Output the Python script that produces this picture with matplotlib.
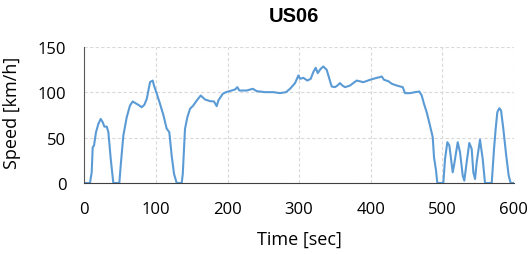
import matplotlib
matplotlib.use("Agg")
import matplotlib.pyplot as plt

time_s = [0, 7.9, 10.3, 11.7, 13.5, 16.3, 19.6, 22.9, 25.7, 28, 31.3, 33.6, 36.9, 40.5,
          48.9, 50.8, 54.5, 59.2, 63.8, 67.6, 70.8, 75.4, 80.2, 83.8, 87.2, 91.8, 95.5, 97.3,
          101, 105.7, 110.4, 115, 118.7, 122, 125.3, 129, 136, 137.5, 139, 140.6, 143.9, 147.6,
          152.2, 157, 162.6, 168.6, 175.6, 181.1, 184.9, 187.2, 193.3, 197.9, 205.9, 210.5,
          213.7, 216.5, 226.8, 235.2, 240.8, 252.4, 264, 273.3, 281.7, 287.3, 294.3, 299,
          301.3, 305.9, 311.5, 316.2, 319.8, 323.2, 326, 330.2, 333.8, 338.5, 342.2, 345.5,
          350.1, 353.4, 357.1, 360.4, 364.1, 371.1, 380.4, 389.7, 399, 408.4, 413, 415.3,
          418.6, 424.6, 429.3, 436.3, 444.7, 447.9, 454.9, 461.9, 467.9, 471.2, 474.4, 478.2,
          482.8, 486.6, 488.4, 491.2, 493, 501.4, 503.8, 507, 509.8, 514.5, 516.3, 521.5,
          524.7, 528.5, 530.7, 534, 537.7, 541, 543.3, 545.7, 548, 552.6, 556.4, 559.6, 569,
          572.2, 574.5, 576.8, 579.6, 582, 585.2, 589, 592.7, 595.5, 600]
speed_kmh = [0, 0, 11.8, 39.4, 41.2, 56, 65.2, 70.7, 67, 62.2, 62.2, 56, 26.5, 0,
             0, 19.2, 52.3, 72.5, 85.5, 89.9, 88.4, 86.2, 83.6, 86.2, 92.8, 111.3, 113, 107.5,
             99, 87.3, 75, 60, 56, 30.2, 10, 0, 0, 10, 35, 59.7, 72.5, 81.8,
             85.5, 91, 96.5, 92.1, 90.3, 89.9, 84.7, 91, 98.3, 100.2, 102, 103.1,
             105.7, 102, 102, 103.9, 101.3, 100.2, 100.2, 99.1, 100.2, 103.9, 110.2, 118.6,
             114.9, 116, 113, 114.9, 122.3, 127.1, 121.2, 126, 128.5, 124.8, 114.9, 106.4,
             105.7, 107.5, 110.2, 107.5, 105.7, 107.5, 113, 111.2, 113.8, 116, 116.8, 117.5,
             113.8, 112.3, 109.5, 107.5, 105.7, 99.1, 99.1, 100.2, 100.9, 96.5, 87.3, 78,
             63.3, 50.5, 28.4, 13.8, 0, 0, 26.5, 45, 41.4, 11.8, 19.2, 45,
             34, 8.1, 2.6, 22.8, 44.2, 37.6, 11.8, 4.4, 22.8, 47.9, 26.5, 0, 0,
             37.6, 59.7, 78, 82.5, 80, 59.7, 32, 8, 0, 0]

x_ticks = [0, 100, 200, 300, 400, 500, 600]
y_ticks = [0, 50, 100, 150]

plt.rcParams['font.family'] = ['Open Sans', 'DejaVu Sans']

fig = plt.figure(figsize=(5.29, 2.55), dpi=100)
ax = fig.add_axes([0.1594, 0.2784, 0.9715 - 0.1594, 0.8118 - 0.2784])
ax.plot(time_s, speed_kmh, color='#5B9BD5', lw=1.5, solid_joinstyle='round')
ax.set_xlim(0, 600)
ax.set_ylim(0, 150)
ax.set_xticks(x_ticks)
ax.set_yticks(y_ticks)
ax.grid(True, color='#d9d9d9', linestyle=(0, (3, 2)), lw=0.8)
ax.set_axisbelow(True)
for s in ['top', 'right']:
    ax.spines[s].set_visible(False)
ax.spines['left'].set_color('#595959')
ax.spines['bottom'].set_color('#404040')
ax.tick_params(axis='both', length=0, labelsize=12)
ax.tick_params(axis='x', pad=13)
ax.tick_params(axis='y', pad=13)
fig.text(299.5 / 529, 1 - 240 / 255, 'Time [sec]', fontsize=13, ha='center', va='center')
fig.text(12.5 / 529, 1 - 113 / 255, 'Speed [km/h]', fontsize=13, ha='center', va='center',
         rotation=90)
fig.text(294 / 529, 1 - 16.7 / 255, 'US06', fontsize=14.5, fontweight='bold',
         family=['Liberation Sans', 'DejaVu Sans'], ha='center', va='center')
fig.savefig('out.png', dpi=100)
